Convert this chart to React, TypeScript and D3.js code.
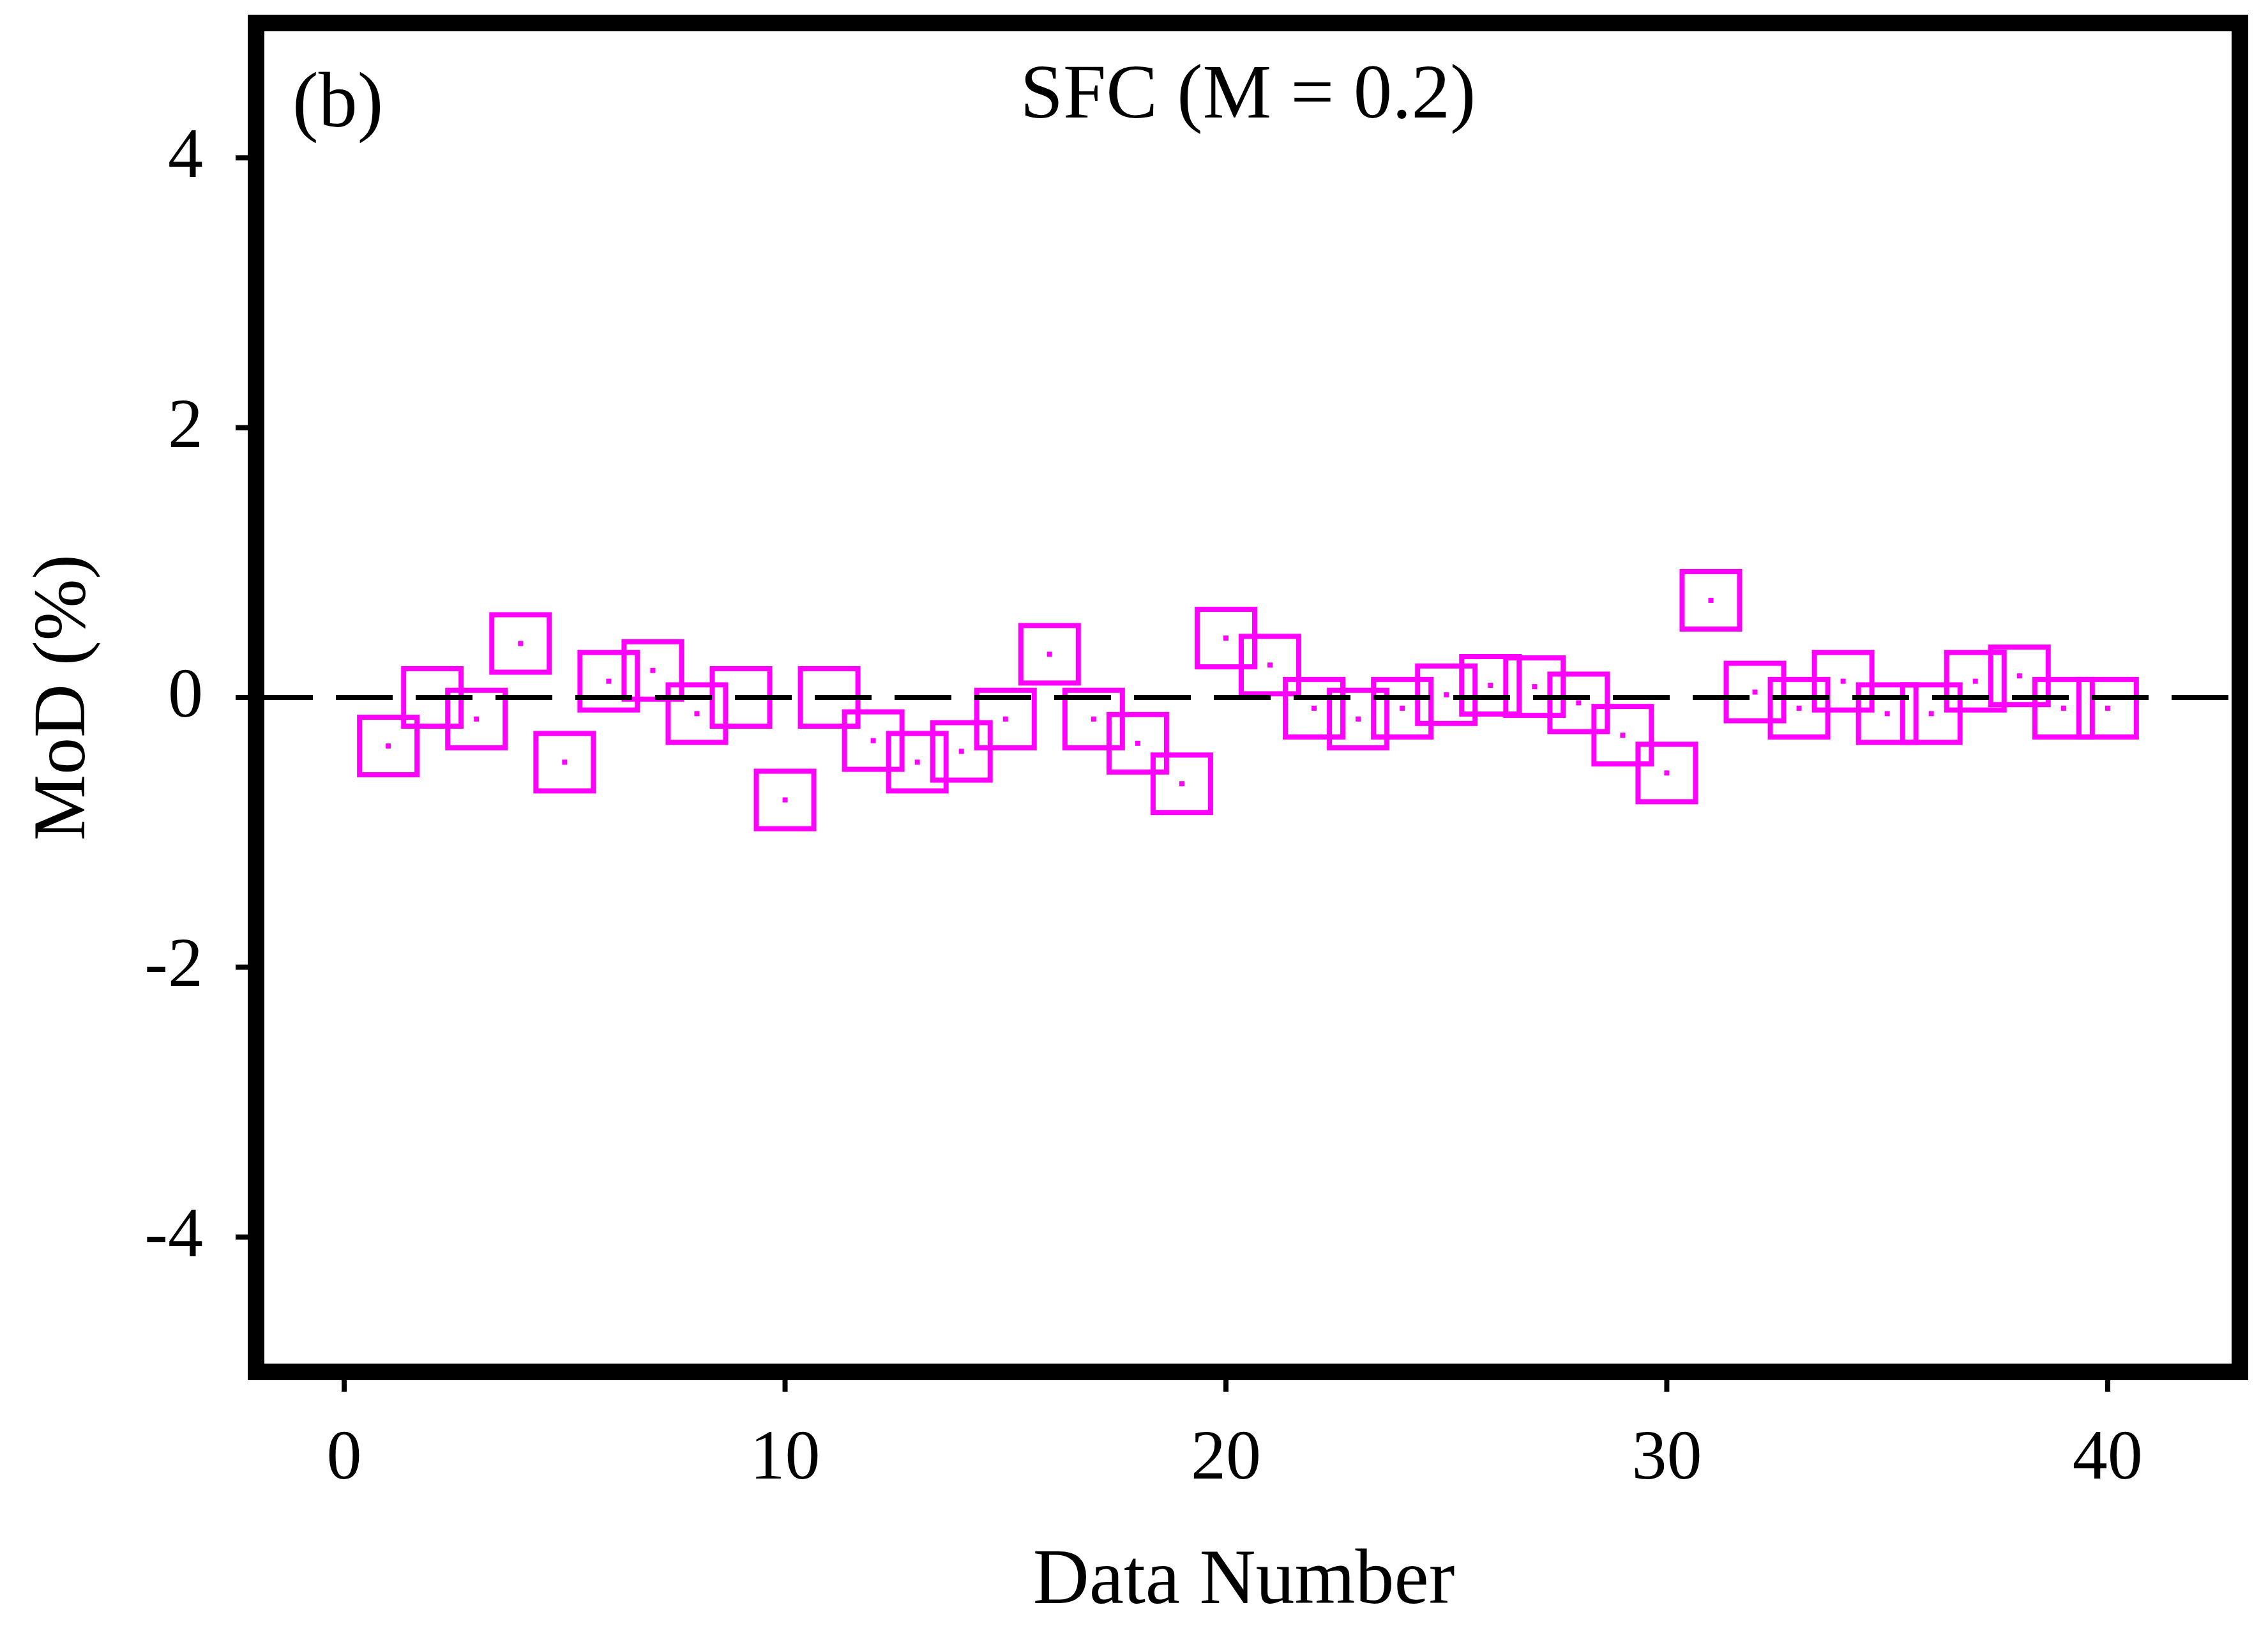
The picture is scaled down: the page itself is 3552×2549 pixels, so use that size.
import React from 'react';
import * as d3 from 'd3';

const dataNumbers: number[] = Array.from({ length: 40 }, (_, i) => i + 1);
const modValues: number[] = [
  -0.36, 0.0, -0.16, 0.4, -0.48, 0.12, 0.2, -0.12, 0.0, -0.76,
  0.0, -0.32, -0.48, -0.4, -0.16, 0.32, -0.16, -0.34, -0.64, 0.44,
  0.24, -0.08, -0.16, -0.08, 0.02, 0.09, 0.08, -0.04, -0.28, -0.56,
  0.72, 0.04, -0.08, 0.12, -0.12, -0.12, 0.12, 0.16, -0.08, -0.08,
];
const xTicks: number[] = [0, 10, 20, 30, 40];
const yTicks: number[] = [-4, -2, 0, 2, 4];
const xDomain: [number, number] = [-2, 43];
const yDomain: [number, number] = [-5, 5];
const titleText = 'SFC (M = 0.2)';
const panelText = '(b)';
const xLabelText = 'Data Number';
const yLabelText = 'MoD (%)';

const FONT = '"Liberation Serif", "Times New Roman", serif';
const MAGENTA = '#FF00FF';

export default function App() {
  const W = 3552;
  const H = 2549;
  const x = d3.scaleLinear().domain(xDomain).range([401, 3508]);
  const y = d3.scaleLinear().domain(yDomain).range([2148, 36]);
  const frameW = 26;
  const half = frameW / 2;
  const sq = 90;
  const dot = 8;

  const left = x(xDomain[0]);
  const right = x(xDomain[1]);
  const top = y(yDomain[1]);
  const bottom = y(yDomain[0]);

  const points = dataNumbers.map((n, i) => ({ n, v: modValues[i] }));

  return (
    <svg
      width={W}
      height={H}
      viewBox={`0 0 ${W} ${H}`}
      style={{ position: 'absolute', left: 0, top: 0, display: 'block', background: '#fff' }}
    >
      <rect x={0} y={0} width={W} height={H} fill="#fff" />
      {points.map((p) => (
        <g key={p.n}>
          <rect
            x={x(p.n) - sq / 2}
            y={y(p.v) - sq / 2}
            width={sq}
            height={sq}
            fill="none"
            stroke={MAGENTA}
            strokeWidth={8}
          />
          <rect x={x(p.n) - dot / 2} y={y(p.v) - dot / 2} width={dot} height={dot} fill={MAGENTA} />
        </g>
      ))}
      <line
        x1={left}
        x2={right}
        y1={y(0)}
        y2={y(0)}
        stroke="#000"
        strokeWidth={8}
        strokeDasharray="89 36"
      />
      <rect
        x={left}
        y={top}
        width={right - left}
        height={bottom - top}
        fill="none"
        stroke="#000"
        strokeWidth={frameW}
      />
      {xTicks.map((t) => (
        <g key={`xt${t}`}>
          <line x1={x(t)} x2={x(t)} y1={bottom + half} y2={bottom + half + 18} stroke="#000" strokeWidth={8} />
          <text x={x(t)} y={2315} textAnchor="middle" fontFamily={FONT} fontSize={110} fill="#000">
            {String(t)}
          </text>
        </g>
      ))}
      {yTicks.map((t) => (
        <g key={`yt${t}`}>
          <line x1={left - half} x2={left - half - 19} y1={y(t)} y2={y(t)} stroke="#000" strokeWidth={8} />
          <text x={318} y={y(t) + 30} textAnchor="end" fontFamily={FONT} fontSize={110} fill="#000">
            {t < 0 ? `-${Math.abs(t)}` : String(t)}
          </text>
        </g>
      ))}
      <text x={(left + right) / 2} y={184} textAnchor="middle" fontFamily={FONT} fontSize={121} fill="#000">
        {titleText}
      </text>
      <text x={458} y={198} textAnchor="start" fontFamily={FONT} fontSize={122} fill="#000">
        {panelText}
      </text>
      <text x={1948} y={2510} textAnchor="middle" fontFamily={FONT} fontSize={122} fill="#000">
        {xLabelText}
      </text>
      <text
        transform={`translate(132, ${(top + bottom) / 2}) rotate(-90)`}
        textAnchor="middle"
        fontFamily={FONT}
        fontSize={116}
        fill="#000"
      >
        {yLabelText}
      </text>
    </svg>
  );
}
